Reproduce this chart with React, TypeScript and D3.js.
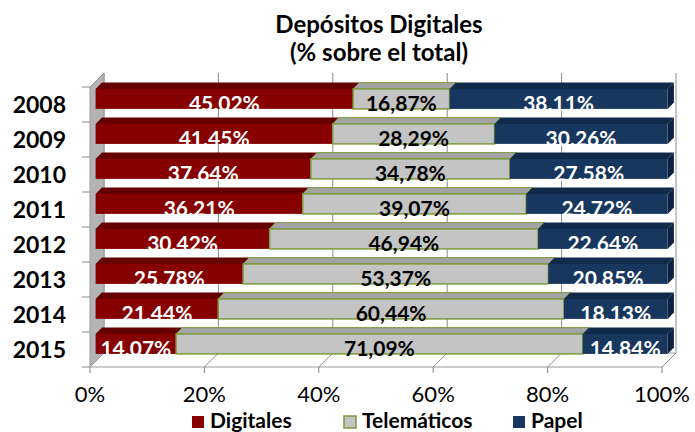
import React from 'react';
import * as d3 from 'd3';

const years = ['2008', '2009', '2010', '2011', '2012', '2013', '2014', '2015'];
const digitales = [45.02, 41.45, 37.64, 36.21, 30.42, 25.78, 21.44, 14.07];
const telematicos = [16.87, 28.29, 34.78, 39.07, 46.94, 53.37, 60.44, 71.09];
const papel = [38.11, 30.26, 27.58, 24.72, 22.64, 20.85, 18.13, 14.84];
const digitalesLabels = ['45.02%', '41.45%', '37.64%', '36.21%', '30.42%', '25.78%', '21.44%', '14.07%'];
const telematicosLabels = ['16,87%', '28,29%', '34,78%', '39,07%', '46,94%', '53,37%', '60,44%', '71,09%'];
const papelLabels = ['38.11%', '30.26%', '27.58%', '24.72%', '22.64%', '20.85%', '18.13%', '14.84%'];
const xTicks = [0, 20, 40, 60, 80, 100];

const series = [
  { name: 'Digitales', values: digitales, labels: digitalesLabels, front: '#860000', top: '#650000', side: '#5a0000', stroke: 'none', text: '#fff' },
  { name: 'Telemáticos', values: telematicos, labels: telematicosLabels, front: '#c4c4c4', top: '#a4a4a4', side: '#999', stroke: '#7f9a3a', text: '#000' },
  { name: 'Papel', values: papel, labels: papelLabels, front: '#17375e', top: '#102a4a', side: '#0c2240', stroke: 'none', text: '#fff' },
];

const W = 695;
const H = 432;
const DEPTH = 14;
const Z0 = 0.4;
const Z1 = 0.85;
const FONT = 'Lato, "Open Sans", sans-serif';

export default function App() {
  const x = d3.scaleLinear().domain([0, 100]).range([90, 662]);
  const y = d3.scaleBand().domain(years).range([87, 367]).paddingInner(0);
  const barPad = 7.5;
  const barH = y.bandwidth() - barPad * 2;

  // projection of a point (value x px, y px) at depth z
  const P = (px: number, py: number, z: number) => [px + z * DEPTH, py - z * DEPTH];
  const poly = (pts: number[][]) => pts.map((p) => p.join(',')).join(' ');

  const x0 = x(0);
  const x1 = x(100);
  const yTop = y.range()[0];
  const yBot = y.range()[1];

  const stacked = years.map((yr, i) => {
    let acc = 0;
    return series.map((s) => {
      const a = acc;
      acc += s.values[i];
      return { s, a, b: acc, label: s.labels[i] };
    });
  });

  return (
    <svg width={W} height={H} style={{ position: 'absolute', left: 0, top: 0 }}>
      {/* title */}
      <text x={379} y={33} textAnchor="middle" fontFamily={FONT} fontWeight={700} fontSize={24}>
        Depósitos Digitales
      </text>
      <text x={379} y={61} textAnchor="middle" fontFamily={FONT} fontWeight={700} fontSize={24}>
        (% sobre el total)
      </text>

      {/* floor */}
      <polygon
        points={poly([[x0, yBot], [x1, yBot], P(x1, yBot, 1), P(x0, yBot, 1)])}
        fill="#fff"
        stroke="#9a9a9a"
        strokeWidth={1}
      />
      {/* back wall gridlines */}
      {xTicks.map((t) => {
        const [bx, by] = P(x(t), yBot, 1);
        const [, ty] = P(x(t), yTop, 1);
        return <line key={'g' + t} x1={bx} y1={by} x2={bx} y2={ty} stroke="#8c8c8c" strokeWidth={1} />;
      })}
      {/* floor gridlines */}
      {xTicks.map((t) => {
        const [bx, by] = P(x(t), yBot, 1);
        return <line key={'f' + t} x1={x(t)} y1={yBot} x2={bx} y2={by} stroke="#8c8c8c" strokeWidth={1} />;
      })}
      {/* left wall */}
      <polygon
        points={poly([[x0, yTop], [x0, yBot], P(x0, yBot, 1), P(x0, yTop, 1)])}
        fill="#b4b4b4"
        stroke="#999"
        strokeWidth={1}
      />
      {/* left axis ticks */}
      {[...years.map((yr) => y(yr) as number), yBot].map((v, i) => (
        <line key={'yt' + i} x1={82} y1={v} x2={x0} y2={v} stroke="#888" strokeWidth={1} />
      ))}
      {/* bottom axis ticks */}
      {xTicks.map((t) => (
        <line key={'xt' + t} x1={x(t)} y1={yBot} x2={x(t)} y2={yBot + 6} stroke="#888" strokeWidth={1} />
      ))}

      {/* bars */}
      {years.map((yr, i) => {
        const top = (y(yr) as number) + barPad;
        const bot = top + barH;
        const segs = stacked[i];
        return (
          <g key={yr}>
            {segs.map((d, j) => {
              const xa = x(d.a);
              const xb = x(d.b);
              const f0 = P(xa, top, Z0);
              const f1 = P(xb, bot, Z0);
              return (
                <g key={j}>
                  <polygon
                    points={poly([P(xa, top, Z0), P(xb, top, Z0), P(xb, top, Z1), P(xa, top, Z1)])}
                    fill={d.s.top}
                    stroke={d.s.stroke}
                    strokeWidth={1}
                  />
                  {j === segs.length - 1 && (
                    <polygon
                      points={poly([P(xb, top, Z0), P(xb, top, Z1), P(xb, bot, Z1), P(xb, bot, Z0)])}
                      fill={d.s.side}
                    />
                  )}
                  <rect
                    x={f0[0]}
                    y={f0[1]}
                    width={f1[0] - f0[0]}
                    height={f1[1] - f0[1]}
                    fill={d.s.front}
                    stroke={d.s.stroke}
                    strokeWidth={1.5}
                  />
                </g>
              );
            })}
            {segs.map((d, j) => {
              const [cx, cy] = P(x((d.a + d.b) / 2), bot, Z0);
              return (
                <text
                  key={'l' + j}
                  x={cx}
                  y={cy + 2}
                  textAnchor="middle"
                  fontFamily={FONT}
                  fontWeight={700}
                  fontSize={21}
                  fill={d.s.text}
                >
                  {d.label}
                </text>
              );
            })}
          </g>
        );
      })}

      {/* category labels */}
      {years.map((yr) => (
        <text
          key={'yl' + yr}
          x={66}
          y={(y(yr) as number) + y.bandwidth() / 2 + 8}
          textAnchor="end"
          fontFamily={FONT}
          fontWeight={700}
          fontSize={23}
        >
          {yr}
        </text>
      ))}

      {/* x tick labels */}
      {xTicks.map((t) => (
        <text key={'xl' + t} x={x(t)} y={402} textAnchor="middle" fontFamily={FONT} fontSize={22}>
          {t}%
        </text>
      ))}

      {/* legend */}
      {series.map((s, i) => {
        const lx = [192, 344, 513][i];
        return (
          <g key={'lg' + s.name}>
            <rect x={lx} y={416} width={12} height={12} fill={s.front} stroke={s.stroke} strokeWidth={1.5} />
            <text x={lx + 18} y={428} fontFamily={FONT} fontWeight={700} fontSize={21}>
              {s.name}
            </text>
          </g>
        );
      })}
    </svg>
  );
}
